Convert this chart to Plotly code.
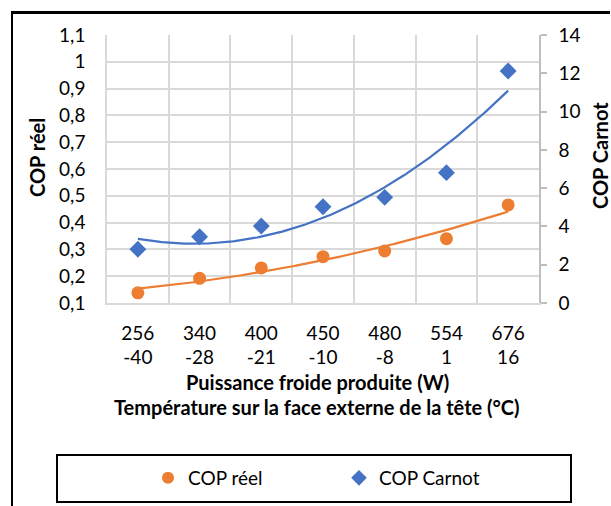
import numpy as np
import plotly.graph_objects as go

puissance = ["256", "340", "400", "450", "480", "554", "676"]
temperature = ["-40", "-28", "-21", "-10", "-8", "1", "16"]
cop_reel = [0.138, 0.192, 0.231, 0.273, 0.294, 0.340, 0.466]
cop_carnot = [2.81, 3.46, 4.02, 5.03, 5.52, 6.81, 12.12]

idx = np.arange(1, len(puissance) + 1)
ticktext = [f"{p}<br>{t}" for p, t in zip(puissance, temperature)]

ORANGE = "#ED7D31"
BLUE = "#4472C4"
GRID = "#D9D9D9"
FONT = "Lato"
FS = 19

xs = np.linspace(1, len(idx), 200)
fit_r = np.polyval(np.polyfit(idx, cop_reel, 2), xs)
fit_c = np.polyval(np.polyfit(idx, cop_carnot, 2), xs)

fig = go.Figure()
fig.add_trace(go.Scatter(x=xs, y=fit_r, mode="lines", line=dict(color=ORANGE, width=2.2),
                         showlegend=False, hoverinfo="skip"))
fig.add_trace(go.Scatter(x=xs, y=fit_c, mode="lines", line=dict(color=BLUE, width=2.2),
                         showlegend=False, hoverinfo="skip", yaxis="y2"))
fig.add_trace(go.Scatter(x=idx, y=cop_reel, mode="markers", name="COP réel",
                         marker=dict(color=ORANGE, size=13, symbol="circle")))
fig.add_trace(go.Scatter(x=idx, y=cop_carnot, mode="markers", name="COP Carnot", yaxis="y2",
                         marker=dict(color=BLUE, size=13, symbol="diamond")))

L, R, T, B = 107, 539, 35, 303
W, H = 611, 506
pw, ph = R - L, B - T
def px(x): return (x - L) / pw
def py(y): return (B - y) / ph

fig.update_layout(
    width=W, height=H,
    margin=dict(l=L, r=W - R, t=T, b=H - B, autoexpand=False),
    paper_bgcolor="white", plot_bgcolor="white",
    separators=", ",
    font=dict(family=FONT, size=FS, color="#000000"),
    showlegend=True,
    legend=dict(orientation="h", x=px(148), xanchor="left", y=py(478), yanchor="middle",
                bgcolor="rgba(0,0,0,0)", borderwidth=0, entrywidth=146, entrywidthmode="pixels",
                font=dict(family=FONT, size=FS), itemsizing="constant"),
    xaxis=dict(range=[0.5, len(idx) + 0.5], tickmode="array", tickvals=idx, ticktext=ticktext,
               showgrid=False, zeroline=False, showline=True, linecolor=GRID, linewidth=1.5,
               ticks="", ticklabelstandoff=12,
               minor=dict(tick0=0.5, dtick=1, showgrid=True, gridcolor=GRID, gridwidth=1.5, ticks=""),
               tickfont=dict(family=FONT, size=FS), fixedrange=True),
    yaxis=dict(range=[0.1, 1.1], dtick=0.1, tick0=0.1, showgrid=True, gridcolor=GRID, gridwidth=1.5,
               zeroline=False, showline=True, linecolor=GRID, linewidth=1.5, ticks="",
               ticklabelstandoff=16, tickfont=dict(family=FONT, size=FS)),
    yaxis2=dict(range=[0, 14], dtick=2, overlaying="y", side="right", anchor="x",
                showgrid=False, zeroline=False, showline=True, linecolor="#BFBFBF", linewidth=1.5,
                ticks="outside", ticklen=6, tickcolor="#BFBFBF", tickwidth=1.5,
                ticklabelstandoff=8, tickfont=dict(family=FONT, size=FS)),
)

anns = [
    dict(text="<b>COP réel</b>", x=px(37), y=py(158), textangle=-90),
    dict(text="<b>COP Carnot</b>", x=px(600), y=py(156), textangle=-90),
    dict(text="<b>Puissance froide produite (W)</b>", x=px(317), y=py(382)),
    dict(text="<b>Température sur la face externe de la tête (°C)</b>", x=px(317), y=py(407)),
]
for a in anns:
    fig.add_annotation(xref="paper", yref="paper", showarrow=False, xanchor="center", yanchor="middle",
                       font=dict(family=FONT, size=20, color="#000000"), **a)

# legend frame
fig.add_shape(type="rect", xref="paper", yref="paper", x0=px(57), x1=px(571), y0=py(455), y1=py(502),
              line=dict(color="#000000", width=2), fillcolor="rgba(0,0,0,0)", layer="above")
# outer chart border: top and left edges
fig.add_shape(type="rect", xref="paper", yref="paper", x0=px(11), x1=px(610), y0=py(11), y1=py(14),
              line=dict(width=0), fillcolor="#000000", layer="above")
fig.add_shape(type="rect", xref="paper", yref="paper", x0=px(11), x1=px(13), y0=py(11), y1=py(506),
              line=dict(width=0), fillcolor="#000000", layer="above")

fig.write_html("out.html", config={"displayModeBar": False},
               post_script="document.body.style.margin='0';document.body.style.overflow='hidden';")
